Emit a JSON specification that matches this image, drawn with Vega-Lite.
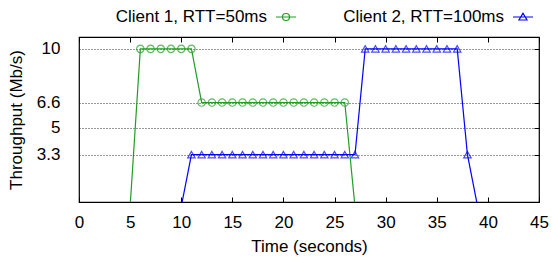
{
  "$schema": "https://vega.github.io/schema/vega-lite/v6.json",
  "width": 460,
  "height": 165,
  "autosize": {"type": "none"},
  "padding": {"left": 79, "top": 37, "right": 14, "bottom": 55},
  "config": {
    "font": "Liberation Sans",
    "view": {"stroke": "#000", "strokeWidth": 1.2},
    "axis": {"labelFont": "Liberation Sans", "titleFont": "Liberation Sans", "labelFontSize": 17, "titleFontSize": 17, "labelColor": "#000", "titleColor": "#000", "titleFontWeight": "normal", "domain": false, "tickColor": "#000"}
  },
  "data": {"values": [
    {"t": 5, "thr": 0, "client": "Client 1, RTT=50ms"},
    {"t": 6, "thr": 10, "client": "Client 1, RTT=50ms"},
    {"t": 7, "thr": 10, "client": "Client 1, RTT=50ms"},
    {"t": 8, "thr": 10, "client": "Client 1, RTT=50ms"},
    {"t": 9, "thr": 10, "client": "Client 1, RTT=50ms"},
    {"t": 10, "thr": 10, "client": "Client 1, RTT=50ms"},
    {"t": 11, "thr": 10, "client": "Client 1, RTT=50ms"},
    {"t": 12, "thr": 6.6, "client": "Client 1, RTT=50ms"},
    {"t": 13, "thr": 6.6, "client": "Client 1, RTT=50ms"},
    {"t": 14, "thr": 6.6, "client": "Client 1, RTT=50ms"},
    {"t": 15, "thr": 6.6, "client": "Client 1, RTT=50ms"},
    {"t": 16, "thr": 6.6, "client": "Client 1, RTT=50ms"},
    {"t": 17, "thr": 6.6, "client": "Client 1, RTT=50ms"},
    {"t": 18, "thr": 6.6, "client": "Client 1, RTT=50ms"},
    {"t": 19, "thr": 6.6, "client": "Client 1, RTT=50ms"},
    {"t": 20, "thr": 6.6, "client": "Client 1, RTT=50ms"},
    {"t": 21, "thr": 6.6, "client": "Client 1, RTT=50ms"},
    {"t": 22, "thr": 6.6, "client": "Client 1, RTT=50ms"},
    {"t": 23, "thr": 6.6, "client": "Client 1, RTT=50ms"},
    {"t": 24, "thr": 6.6, "client": "Client 1, RTT=50ms"},
    {"t": 25, "thr": 6.6, "client": "Client 1, RTT=50ms"},
    {"t": 26, "thr": 6.6, "client": "Client 1, RTT=50ms"},
    {"t": 27, "thr": 0, "client": "Client 1, RTT=50ms"},
    {"t": 10, "thr": 0, "client": "Client 2, RTT=100ms"},
    {"t": 11, "thr": 3.3, "client": "Client 2, RTT=100ms"},
    {"t": 12, "thr": 3.3, "client": "Client 2, RTT=100ms"},
    {"t": 13, "thr": 3.3, "client": "Client 2, RTT=100ms"},
    {"t": 14, "thr": 3.3, "client": "Client 2, RTT=100ms"},
    {"t": 15, "thr": 3.3, "client": "Client 2, RTT=100ms"},
    {"t": 16, "thr": 3.3, "client": "Client 2, RTT=100ms"},
    {"t": 17, "thr": 3.3, "client": "Client 2, RTT=100ms"},
    {"t": 18, "thr": 3.3, "client": "Client 2, RTT=100ms"},
    {"t": 19, "thr": 3.3, "client": "Client 2, RTT=100ms"},
    {"t": 20, "thr": 3.3, "client": "Client 2, RTT=100ms"},
    {"t": 21, "thr": 3.3, "client": "Client 2, RTT=100ms"},
    {"t": 22, "thr": 3.3, "client": "Client 2, RTT=100ms"},
    {"t": 23, "thr": 3.3, "client": "Client 2, RTT=100ms"},
    {"t": 24, "thr": 3.3, "client": "Client 2, RTT=100ms"},
    {"t": 25, "thr": 3.3, "client": "Client 2, RTT=100ms"},
    {"t": 26, "thr": 3.3, "client": "Client 2, RTT=100ms"},
    {"t": 27, "thr": 3.3, "client": "Client 2, RTT=100ms"},
    {"t": 28, "thr": 10, "client": "Client 2, RTT=100ms"},
    {"t": 29, "thr": 10, "client": "Client 2, RTT=100ms"},
    {"t": 30, "thr": 10, "client": "Client 2, RTT=100ms"},
    {"t": 31, "thr": 10, "client": "Client 2, RTT=100ms"},
    {"t": 32, "thr": 10, "client": "Client 2, RTT=100ms"},
    {"t": 33, "thr": 10, "client": "Client 2, RTT=100ms"},
    {"t": 34, "thr": 10, "client": "Client 2, RTT=100ms"},
    {"t": 35, "thr": 10, "client": "Client 2, RTT=100ms"},
    {"t": 36, "thr": 10, "client": "Client 2, RTT=100ms"},
    {"t": 37, "thr": 10, "client": "Client 2, RTT=100ms"},
    {"t": 38, "thr": 3.3, "client": "Client 2, RTT=100ms"},
    {"t": 39, "thr": 0, "client": "Client 2, RTT=100ms"}
  ]},
  "resolve": {"axis": {"x": "independent", "y": "independent"}},
  "layer": [
    {
      "mark": {"type": "line", "clip": true, "strokeWidth": 1.2},
      "encoding": {
        "x": {"field": "t", "type": "quantitative", "scale": {"domain": [0, 45], "nice": false, "zero": false}, "title": "Time (seconds)",
              "axis": {"values": [0, 5, 10, 15, 20, 25, 30, 35, 40, 45], "tickSize": -5, "labelPadding": 17, "grid": false, "titlePadding": 8, "labelFlush": false, "titleFontWeight": "normal"}},
        "y": {"field": "thr", "type": "quantitative", "scale": {"domain": [0.3, 10.75], "nice": false, "zero": false}, "title": "Throughput (Mb/s)",
              "axis": {"values": [3.3, 5, 6.6, 10], "labelExpr": "'' + datum.value", "tickSize": 0, "labelPadding": 19, "grid": true, "gridColor": "#000", "gridDash": [1, 2], "gridWidth": 1, "gridOpacity": 0.8, "titlePadding": 11, "labelFlush": false, "titleFontWeight": "normal"}},
        "color": {"field": "client", "type": "nominal", "title": null,
                  "scale": {"domain": ["Client 1, RTT=50ms", "Client 2, RTT=100ms"], "range": ["#229c22", "#0000ff"]},
                  "legend": {
                    "orient": "none", "legendX": 196, "legendY": -31, "direction": "horizontal",
                    "labelFontSize": 17, "labelFont": "Liberation Sans", "labelColor": "#000", "labelLimit": 0,
                    "labelAlign": "right", "labelOffset": -30, "symbolSize": 400, "symbolStrokeWidth": 1.2,
                    "symbolFillColor": "transparent", "columnPadding": 44,
                    "encode": {"symbols": {"update": {"shape": {"signal": "datum.value === 'Client 1, RTT=50ms' ? 'M-1,0H1M0.35,0A0.35,0.35 0 1,1 -0.35,0A0.35,0.35 0 1,1 0.35,0Z' : 'M-1,0H1M0,-0.38L0.4,0.3L-0.4,0.3Z'"}, "fill": {"value": "transparent"}}}}
                  }}
      }
    },
    {
      "transform": [{"filter": "datum.client === 'Client 1, RTT=50ms'"}],
      "mark": {"type": "point", "clip": true, "filled": false, "size": 55, "strokeWidth": 1.2, "shape": "circle", "color": "#229c22"},
      "encoding": {
        "x": {"field": "t", "type": "quantitative", "scale": {"domain": [0, 45], "nice": false, "zero": false},
              "axis": {"orient": "top", "values": [0, 5, 10, 15, 20, 25, 30, 35, 40, 45], "tickSize": -5, "labels": false, "title": null, "grid": false}},
        "y": {"field": "thr", "type": "quantitative", "scale": {"domain": [0.3, 10.75], "nice": false, "zero": false},
              "axis": {"orient": "right", "values": [3.3, 5, 6.6, 10], "tickSize": -5, "labels": false, "title": null, "grid": false}}
      }
    },
    {
      "transform": [{"filter": "datum.client === 'Client 2, RTT=100ms'"}],
      "mark": {"type": "point", "clip": true, "filled": false, "size": 55, "strokeWidth": 1.2, "shape": "triangle-up", "color": "#0000ff"},
      "encoding": {
        "x": {"field": "t", "type": "quantitative", "axis": null},
        "y": {"field": "thr", "type": "quantitative", "axis": null}
      }
    }
  ]
}
